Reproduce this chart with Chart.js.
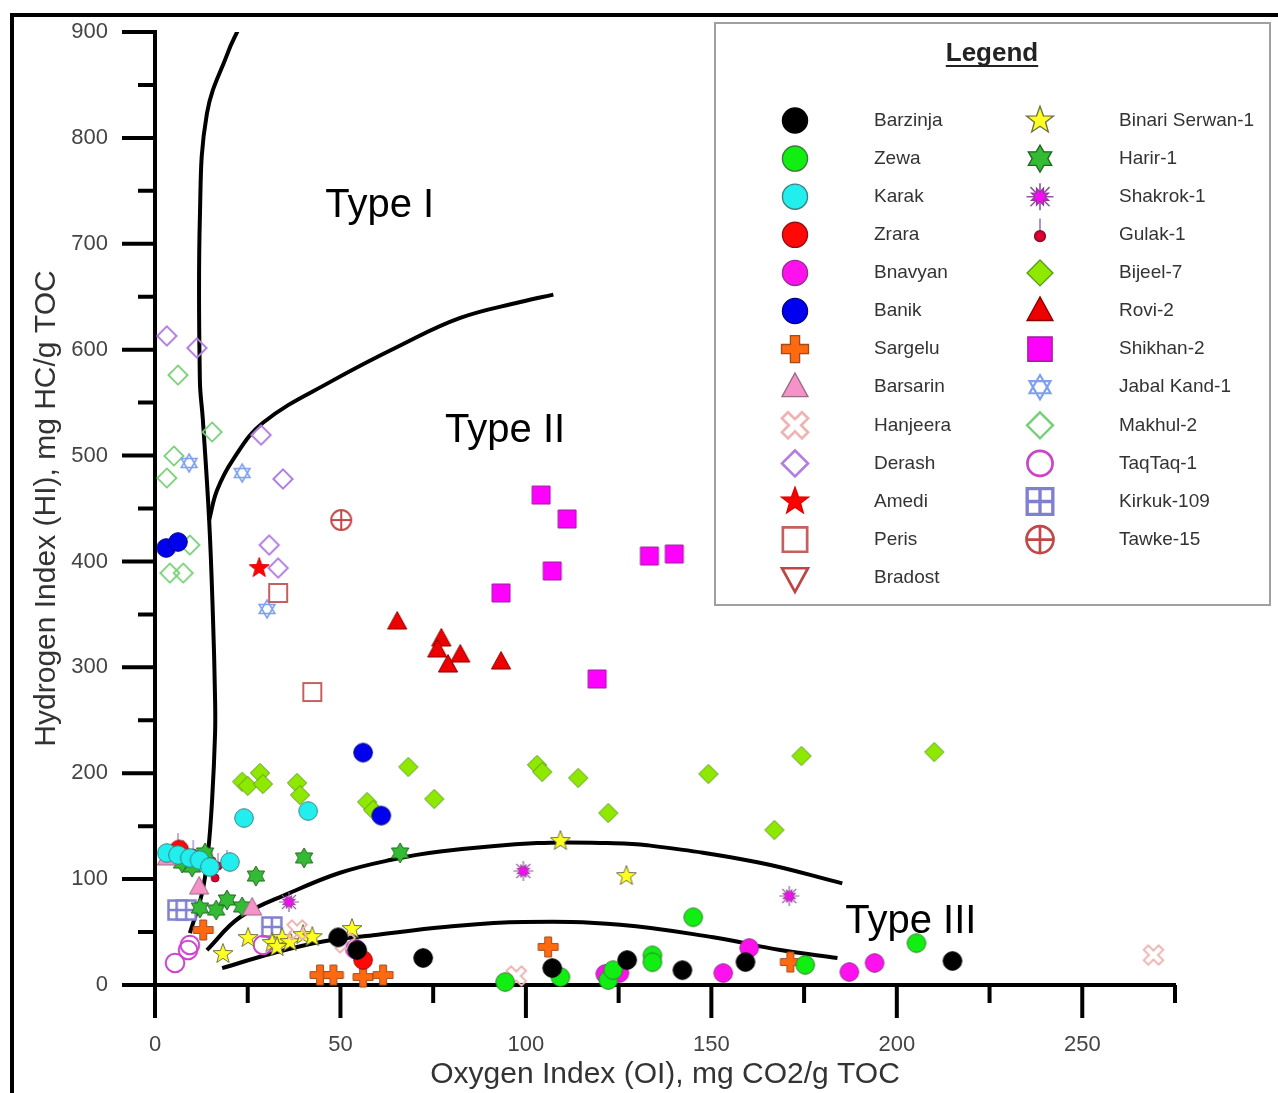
<!DOCTYPE html>
<html lang="en">
<head>
<meta charset="UTF-8">
<title>Hydrogen Index vs Oxygen Index</title>
<script src="https://cdn.jsdelivr.net/npm/chart.js"></script>
<style>
  html, body { margin: 0; padding: 0; background: #fff; }
  .wrap { position: relative; width: 1278px; height: 1093px; }
</style>
</head>
<body>
<div class="wrap"><canvas id="chart"></canvas></div>
<script>
// samples as [OI, HI]
const barzinja = [[49.4,45],[54.5,33],[72.3,25.5],[107.1,16],[127.3,23.6],[142.2,14],[159.2,21.7],[215,22.7]];
const zewa = [[94.4,2.8],[109.3,7.5],[122.2,4.7],[123.5,14],[134.1,28],[134.1,21.5],[145.1,64],[175.3,19],[205.3,39.5]];
const karak = [[24,157.7],[41.3,164.3],[3.2,124.7],[6.2,122.8],[9.4,120],[12,118],[14.8,111.4],[20.2,116.2]];
const zrara = [[56.1,23.6],[6.5,128]];
const bnavyan = [[121.4,10.4],[125.2,11.3],[153.2,11.3],[160.2,35],[187.2,12.3],[194,20.8]];
const banik = [[3,412.7],[6.2,418.4],[56.1,219.5],[61,160]];
const sargelu = [[13,52],[44.5,9.4],[48.1,9.4],[56.1,7.5],[61.5,9.4],[106,36],[171.3,21.7]];
const barsarin = [[3.2,120],[11.9,92.5],[26.2,72.7]];
const hanjeera = [[38.3,52],[51.3,39.7],[97.4,8.5],[269.2,28.3]];
const derash = [[3.2,613],[11.3,601.6],[28.6,519.4],[34.5,477.9],[30.8,415.5],[33.2,393.8]];
const amedi = [[28.1,393.8]];
const peris = [[33.2,370.2],[42.4,276.7]];
const bradost = [];
const binariSerwan = [[18.3,29.3],[25.1,44.4],[31.6,39.7],[34.3,44.4],[36.4,40.6],[39.9,47.2],[42.4,45.3],[32.9,35.9],[53.1,52.9],[109.3,136],[127.1,102.9]];
const harir = [[40.2,120],[27.2,102.9],[12.1,72.7],[16.5,70.8],[19.4,80.3],[23.5,73.7],[7.3,115.2],[10,111.4],[13.5,124.7],[66.1,124.7]];
const shakrok = [[36.1,78.4],[99.3,107.7],[171,84]];
const gulak = [[6.2,132.2],[7.6,125.6],[10.3,125.6],[11.6,116.2],[15.4,118],[17,113.3],[19.4,116.2],[16.2,102]];
const bijeel = [[23.5,192],[25,188],[28.3,200.2],[29.1,189.8],[38.3,190.8],[39.1,179.4],[57.2,172.8],[58.8,165.3],[68.3,205.9],[75.3,175.7],[103,207.8],[104.4,201.2],[114.1,195.5],[122.2,162.4],[149.2,199.3],[167,146.4],[174.3,216.3],[210.1,220]];
const rovi = [[65.3,342.8],[77.2,326.8],[76.1,316.4],[82.3,311.6],[79,302.2],[93.3,305]];
const shikhan = [[104.1,462.7],[111.1,440.1],[107.1,391],[93.3,370.2],[133.3,405.1],[140,407],[119.2,289]];
const jabalKand = [[9.2,493],[23.5,483.5],[30.2,355.1]];
const makhul = [[6.2,576],[15.4,522.2],[5.1,499.6],[3.2,478.8],[9.4,415.5],[4,389],[7.6,389]];
const taqtaq = [[5.4,20.8],[8.9,33],[9.4,37.8],[29.1,37.8],[54,34]];
const kirkuk = [[6.2,70.8],[8.4,70.8],[31.5,54.8]];
const tawke = [[50.2,439.1]];

// kerogen type boundary curves
const curveTypeI = [[22.4,902],[19.7,881],[14,823],[12.1,725],[12.1,571],[12.9,534],[14.6,439],[15.6,350],[16.2,269],[16.2,238],[15.4,175],[14.3,125],[12.7,87],[9.4,49]];
const curveTypeI_II = [[14.6,439],[16.7,467],[21,496],[29.1,531],[48,571],[66.1,604],[82.3,630],[98.5,645],[107.4,652]];
const curveTypeII_III = [[14,33],[22.9,64],[36.4,87],[49.9,106],[63.4,118],[76.9,126],[103,134],[121.9,134],[132.7,132],[162.4,116],[185.3,96]];
const curveTypeIII = [[18.1,16],[31.8,30],[45.3,41],[58.8,47],[78.8,55],[99.3,59.5],[125.4,57],[150.5,45],[168.6,33],[184,25.5]];

const typeLabels = [['Type I',45.9,725],['Type II',78.2,513],['Type III',186.1,49]];

const FONT = "'Liberation Sans', Arial, sans-serif";

const series = [
  ['Barzinja', barzinja, {kind:'circle', fill:'#000', stroke:'#000', lw:1}],
  ['Zewa', zewa, {kind:'circle', fill:'#11ee11', stroke:'#3a7a3a', lw:1}],
  ['Karak', karak, {kind:'circle', fill:'#22eeee', stroke:'#3a8080', lw:1}],
  ['Zrara', zrara, {kind:'circle', fill:'#ff0808', stroke:'#901010', lw:1}],
  ['Bnavyan', bnavyan, {kind:'circle', fill:'#ff11ee', stroke:'#903090', lw:1}],
  ['Banik', banik, {kind:'circle', fill:'#0000ee', stroke:'#000080', lw:1}],
  ['Sargelu', sargelu, {kind:'plus', fill:'#ff6a10', stroke:'#a04a20', lw:1}],
  ['Barsarin', barsarin, {kind:'triangle', fill:'#f592c8', stroke:'#9a6a80', lw:1}],
  ['Hanjeera', hanjeera, {kind:'xout', fill:null, stroke:'#eeb4b4', lw:2}],
  ['Derash', derash, {kind:'diamond', fill:null, stroke:'#b27fe0', lw:2}],
  ['Amedi', amedi, {kind:'star5', fill:'#ff0000', stroke:'#dd0000', lw:1}],
  ['Peris', peris, {kind:'square', fill:null, stroke:'#c46060', lw:2}],
  ['Bradost', bradost, {kind:'triDown', fill:null, stroke:'#c04444', lw:2}],
  ['Binari Serwan-1', binariSerwan, {kind:'star5', fill:'#ffff22', stroke:'#707040', lw:1}],
  ['Harir-1', harir, {kind:'hex6', fill:'#33bb33', stroke:'#226622', lw:1}],
  ['Shakrok-1', shakrok, {kind:'burst', fill:'#ee11ee', stroke:'#8a5a9a', lw:1}],
  ['Gulak-1', gulak, {kind:'gulak', fill:'#dd0033', stroke:'#801020', lw:1}],
  ['Bijeel-7', bijeel, {kind:'diamond', fill:'#8fe800', stroke:'#5a9a20', lw:1}],
  ['Rovi-2', rovi, {kind:'triangle', fill:'#ee0000', stroke:'#880000', lw:1}],
  ['Shikhan-2', shikhan, {kind:'square', fill:'#ff00ff', stroke:'#992299', lw:1}],
  ['Jabal Kand-1', jabalKand, {kind:'david', fill:null, stroke:'#7ea0ee', lw:1.6}],
  ['Makhul-2', makhul, {kind:'diamond', fill:null, stroke:'#77d077', lw:1.8}],
  ['TaqTaq-1', taqtaq, {kind:'circle', fill:null, stroke:'#cc44cc', lw:2}],
  ['Kirkuk-109', kirkuk, {kind:'squareGrid', fill:'#ffffff', stroke:'#8080d0', lw:2.5}],
  ['Tawke-15', tawke, {kind:'circleCross', fill:null, stroke:'#c04848', lw:2}]
];

function poly(ctx, pts) {
  ctx.beginPath();
  pts.forEach((p, i) => i ? ctx.lineTo(p[0], p[1]) : ctx.moveTo(p[0], p[1]));
  ctx.closePath();
}
function starPts(n, ro, ri, rot) {
  const pts = [];
  for (let i = 0; i < n * 2; i++) {
    const r = i % 2 ? ri : ro;
    const a = rot + i * Math.PI / n;
    pts.push([r * Math.sin(a), -r * Math.cos(a)]);
  }
  return pts;
}
function crossPts(a, b) {
  return [[-b,-a],[b,-a],[b,-b],[a,-b],[a,b],[b,b],[b,a],[-b,a],[-b,b],[-a,b],[-a,-b],[-b,-b]];
}

function drawSymbol(ctx, st, x, y, k) {
  ctx.save();
  ctx.translate(x, y);
  ctx.scale(k, k);
  ctx.lineJoin = 'miter';
  const paint = () => {
    if (st.fill) { ctx.fillStyle = st.fill; ctx.fill(); }
    if (st.stroke) { ctx.strokeStyle = st.stroke; ctx.lineWidth = st.lw; ctx.stroke(); }
  };
  switch (st.kind) {
    case 'circle':
      ctx.beginPath(); ctx.arc(0, 0, 9.3, 0, Math.PI * 2); paint(); break;
    case 'plus':
      poly(ctx, crossPts(10, 3.4)); paint(); break;
    case 'xout':
      ctx.rotate(Math.PI / 4); poly(ctx, crossPts(10.5, 3.2)); paint(); break;
    case 'triangle':
      poly(ctx, [[0,-10.5],[9.6,7],[-9.6,7]]); paint(); break;
    case 'triDown':
      poly(ctx, [[0,10.5],[9.6,-7],[-9.6,-7]]); paint(); break;
    case 'diamond':
      poly(ctx, [[0,-9.6],[9.6,0],[0,9.6],[-9.6,0]]); paint(); break;
    case 'square':
      ctx.beginPath(); ctx.rect(-9, -9, 18, 18); paint(); break;
    case 'star5':
      poly(ctx, starPts(5, 10.5, 4.3, 0)); paint(); break;
    case 'hex6':
      poly(ctx, starPts(6, 10, 5.8, 0)); paint(); break;
    case 'david':
      poly(ctx, [[0,-9],[7.8,4.5],[-7.8,4.5]]); paint();
      poly(ctx, [[0,9],[7.8,-4.5],[-7.8,-4.5]]); paint(); break;
    case 'burst':
      ctx.beginPath();
      for (let i = 0; i < 8; i++) {
        const a = i * Math.PI / 4;
        ctx.moveTo(0, 0); ctx.lineTo(10 * Math.sin(a), -10 * Math.cos(a));
      }
      ctx.strokeStyle = st.stroke; ctx.lineWidth = 1.2; ctx.stroke();
      poly(ctx, starPts(8, 7, 3.6, Math.PI / 8));
      ctx.fillStyle = st.fill; ctx.fill();
      ctx.strokeStyle = '#9a309a'; ctx.lineWidth = 0.8; ctx.stroke();
      break;
    case 'gulak':
      ctx.beginPath(); ctx.moveTo(0, -3); ctx.lineTo(0, -12);
      ctx.strokeStyle = '#8060c0'; ctx.lineWidth = 1; ctx.stroke();
      ctx.beginPath(); ctx.arc(0, 1, 4, 0, Math.PI * 2); paint(); break;
    case 'squareGrid':
      ctx.beginPath(); ctx.rect(-9.5, -9.5, 19, 19); paint();
      ctx.beginPath(); ctx.moveTo(0, -9.5); ctx.lineTo(0, 9.5); ctx.moveTo(-9.5, 0); ctx.lineTo(9.5, 0);
      ctx.stroke(); break;
    case 'circleCross':
      ctx.beginPath(); ctx.arc(0, 0, 10, 0, Math.PI * 2); paint();
      ctx.beginPath(); ctx.moveTo(0, -10); ctx.lineTo(0, 10); ctx.moveTo(-10, 0); ctx.lineTo(10, 0);
      ctx.stroke(); break;
  }
  ctx.restore();
}

function makeIcon(st) {
  const c = document.createElement('canvas');
  c.width = 30; c.height = 30;
  drawSymbol(c.getContext('2d'), st, 15, 15, 1);
  return c;
}

const toXY = arr => arr.map(p => ({x: p[0], y: p[1]}));

const datasets = series.map(([name, pts, st]) => ({
  label: name,
  data: toXY(pts),
  pointStyle: makeIcon(st),
  pointRadius: 9,
  clip: false
}));

[curveTypeI, curveTypeI_II, curveTypeII_III, curveTypeIII].forEach((c, i) => {
  datasets.push({
    label: 'curve' + i,
    data: toXY(c),
    showLine: true,
    pointRadius: 0,
    borderColor: '#000',
    borderWidth: 4,
    tension: 0.4,
    fill: false
  });
});

const frame = {
  id: 'frame',
  beforeDraw(chart) {
    const ctx = chart.ctx;
    ctx.save();
    ctx.fillStyle = '#fff';
    ctx.fillRect(0, 0, chart.width, chart.height);
    ctx.strokeStyle = '#000';
    ctx.lineWidth = 4;
    ctx.beginPath();
    ctx.moveTo(12, chart.height); ctx.lineTo(12, 15); ctx.lineTo(chart.width, 15);
    ctx.stroke();
    ctx.restore();
  }
};

// long (major) and short (minor) tick marks, both axes
const tickMarks = {
  id: 'tickMarks',
  afterDraw(chart) {
    const {ctx, scales: {x, y}} = chart;
    ctx.save();
    ctx.strokeStyle = '#000';
    ctx.lineWidth = 4;
    ctx.beginPath();
    for (let v = 0; v <= 275; v += 25) {
      const px = x.getPixelForValue(v);
      ctx.moveTo(px, y.bottom); ctx.lineTo(px, y.bottom + (v % 50 === 0 ? 33 : 18));
    }
    for (let v = 0; v <= 900; v += 50) {
      const py = y.getPixelForValue(v);
      ctx.moveTo(x.left, py); ctx.lineTo(x.left - (v % 100 === 0 ? 33 : 17), py);
    }
    ctx.stroke();
    ctx.restore();
  }
};

const typeText = {
  id: 'typeText',
  afterDatasetsDraw(chart) {
    const {ctx, scales: {x, y}} = chart;
    ctx.save();
    ctx.fillStyle = '#000';
    ctx.font = '40px ' + FONT;
    ctx.textBaseline = 'alphabetic';
    typeLabels.forEach(([t, vx, vy]) => ctx.fillText(t, x.getPixelForValue(vx), y.getPixelForValue(vy)));
    ctx.restore();
  }
};

const legendBox = {
  id: 'legendBox',
  afterDraw(chart) {
    const ctx = chart.ctx;
    ctx.save();
    ctx.fillStyle = '#fff';
    ctx.fillRect(715, 23, 555, 582);
    ctx.strokeStyle = '#a0a0a0';
    ctx.lineWidth = 2;
    ctx.strokeRect(715, 23, 555, 582);
    ctx.fillStyle = '#222';
    ctx.font = 'bold 26px ' + FONT;
    ctx.textAlign = 'center';
    ctx.textBaseline = 'alphabetic';
    ctx.fillText('Legend', 992, 61);
    const w = ctx.measureText('Legend').width;
    ctx.fillRect(992 - w / 2, 65, w, 2);
    ctx.textAlign = 'left';
    ctx.textBaseline = 'middle';
    ctx.font = '19px ' + FONT;
    ctx.fillStyle = '#333';
    series.forEach(([name, , st], i) => {
      const col = i < 13 ? 0 : 1;
      const row = col ? i - 13 : i;
      const yy = 120.5 + row * 38.1;
      drawSymbol(ctx, st, col ? 1040 : 795, yy, 1.35);
      ctx.fillStyle = '#333';
      ctx.fillText(name, col ? 1119 : 874, yy);
    });
    ctx.restore();
  }
};

// hidden tick marks only push the labels out; visible ticks come from tickMarks
const hiddenTicks = { display: true, drawOnChartArea: false, drawTicks: true, tickLength: 44, tickColor: 'rgba(0,0,0,0)' };

new Chart(document.getElementById('chart'), {
  type: 'scatter',
  data: { datasets },
  options: {
    responsive: true,
    maintainAspectRatio: false,
    animation: false,
    events: [],
    layout: { padding: { left: 0, top: 32, right: 103, bottom: 0 } },
    plugins: { legend: { display: false }, tooltip: { enabled: false } },
    scales: {
      x: {
        type: 'linear', min: 0, max: 275,
        afterFit: s => { s.height = 108; },
        grid: hiddenTicks,
        border: { display: true, color: '#000', width: 4 },
        ticks: {
          stepSize: 50, padding: 3, color: '#444', autoSkip: false, maxRotation: 0,
          font: { family: FONT, size: 22 },
          callback: v => (v % 50 === 0 ? v : '')
        },
        title: { display: true, text: 'Oxygen Index (OI), mg CO2/g TOC', color: '#333',
                 font: { family: FONT, size: 30 }, padding: { top: 0, bottom: 0 } }
      },
      y: {
        type: 'linear', min: 0, max: 900,
        afterFit: s => { s.width = 155; },
        grid: hiddenTicks,
        border: { display: true, color: '#000', width: 4 },
        ticks: {
          stepSize: 100, padding: 3, color: '#444',
          font: { family: FONT, size: 22 }
        },
        title: { display: true, text: 'Hydrogen Index (HI), mg HC/g TOC', color: '#333',
                 font: { family: FONT, size: 30 }, padding: { top: 29, bottom: 0 } }
      }
    }
  },
  plugins: [frame, tickMarks, typeText, legendBox]
});
</script>
</body>
</html>
